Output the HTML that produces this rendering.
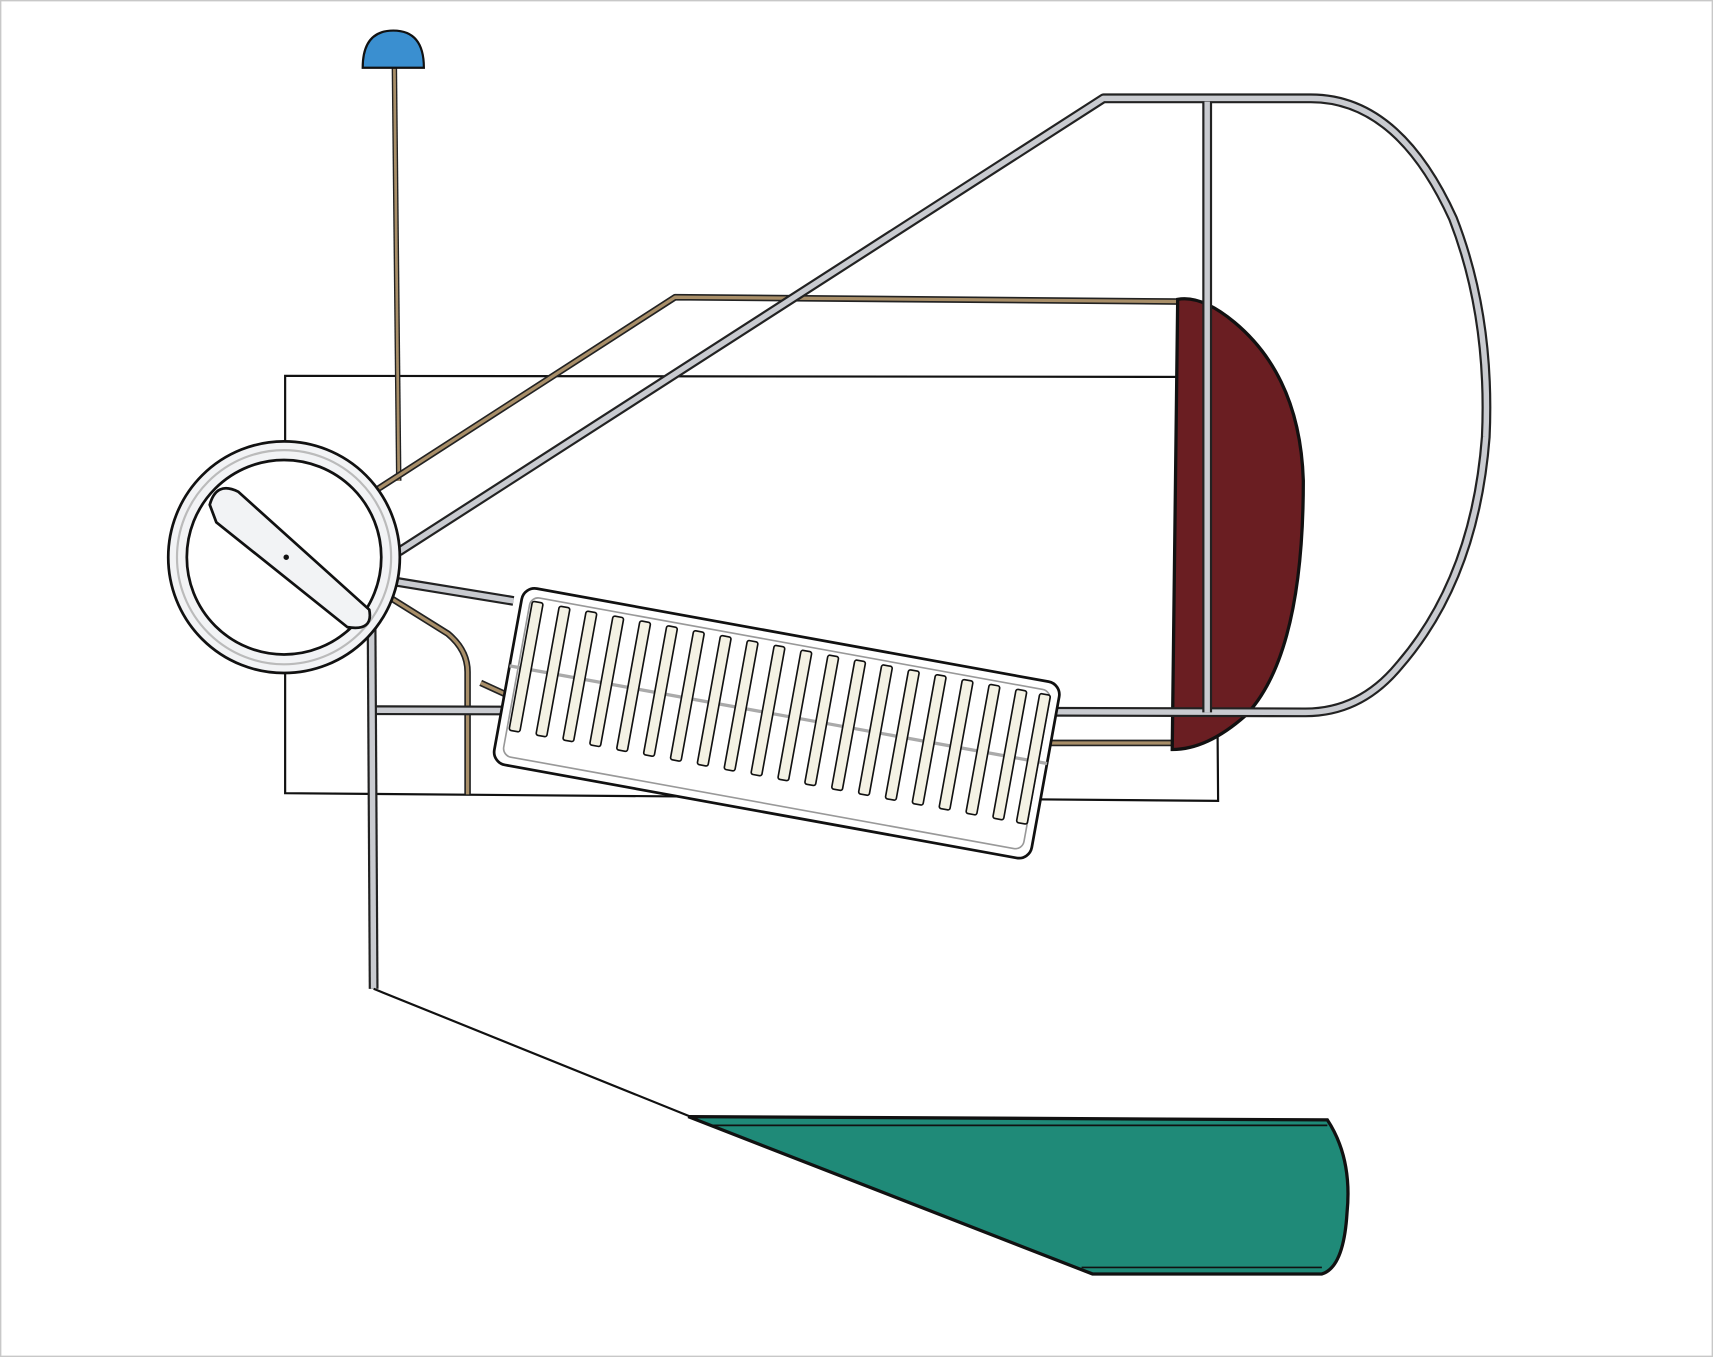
<!DOCTYPE html>
<html><head><meta charset="utf-8"><style>html,body{margin:0;padding:0;background:#fff}svg{display:block}</style></head>
<body>
<svg width="1713" height="1357" viewBox="0 0 1568 1242" preserveAspectRatio="none" xmlns="http://www.w3.org/2000/svg">
<rect x="0.5" y="0.5" width="1567" height="1241" fill="#fff" stroke="#c8c8c8" stroke-width="1.5"/>
<path d="M261 344 L1112 345 L1115 733 L261 726 Z" fill="#fff" stroke="#111" stroke-width="2"/>
<line x1="361" y1="62" x2="365" y2="440" stroke="#222" stroke-width="5"/>
<line x1="361" y1="62" x2="365" y2="440" stroke="#a88e68" stroke-width="2.5"/>
<path d="M332 62 L388 62 Q388 28 360 28 Q332 28 332 62 Z" fill="#3a8fd0" stroke="#111" stroke-width="2"/>
<g fill="none" stroke-linejoin="round">
<path d="M280 490 L618 272 L1080 276" stroke="#222" stroke-width="6"/>
<path d="M280 490 L618 272 L1080 276" stroke="#a88e68" stroke-width="3"/>
<path d="M330 530 L410 580 Q428 595 428 615 L428 727" stroke="#222" stroke-width="6"/>
<path d="M330 530 L410 580 Q428 595 428 615 L428 727" stroke="#a88e68" stroke-width="3"/>
<path d="M440 625 L560 680 L1075 680" stroke="#222" stroke-width="6"/>
<path d="M440 625 L560 680 L1075 680" stroke="#a88e68" stroke-width="3"/>
</g>
<path d="M1078 274 Q1100 270 1130 295 Q1190 345 1193 440 Q1193 600 1140 655 Q1105 686 1073 686 Z" fill="#6a1e22" stroke="#111" stroke-width="3"/>
<g fill="none" stroke-linejoin="round">
<path d="M365 505 L1010 90 L1200 90 Q1280 90 1330 200 Q1365 290 1360 400 Q1350 530 1280 610 Q1245 652 1195 652 L340 650" stroke="#222" stroke-width="9"/>
<path d="M365 505 L1010 90 L1200 90 Q1280 90 1330 200 Q1365 290 1360 400 Q1350 530 1280 610 Q1245 652 1195 652 L340 650" stroke="#c9cbd0" stroke-width="5"/>
<path d="M1105 93 L1105 652" stroke="#222" stroke-width="9"/>
<path d="M1105 93 L1105 652" stroke="#c9cbd0" stroke-width="5"/>
<path d="M340 550 L342 905" stroke="#222" stroke-width="9"/>
<path d="M340 550 L342 905" stroke="#c9cbd0" stroke-width="5"/>
<path d="M360 532 L470 550" stroke="#222" stroke-width="9"/>
<path d="M360 532 L470 550" stroke="#c9cbd0" stroke-width="5"/>
<path d="M290 505 L350 505 M290 515 L350 520 M290 525 L345 535" stroke="#888" stroke-width="3"/>
</g>
<line x1="342" y1="905" x2="632" y2="1022" stroke="#111" stroke-width="2"/>
<path d="M630 1022 L1215 1025 Q1238 1060 1233 1110 Q1230 1160 1210 1166 L1000 1166 Z" fill="#1f8a78" stroke="#111" stroke-width="3"/>
<path d="M650 1030 L1215 1030 M990 1160 L1210 1160" stroke="#111" stroke-width="1.5" fill="none"/>
<g>
<circle cx="260" cy="510" r="106" fill="#f2f3f5" stroke="#111" stroke-width="2.5"/>
<circle cx="260" cy="510" r="98" fill="none" stroke="#bbb" stroke-width="2"/>
<circle cx="260" cy="510" r="89" fill="#fff" stroke="#111" stroke-width="2.5"/>
<path d="M192 462 Q198 440 218 450 L338 558 Q342 578 318 574 L198 478 Z" fill="#f2f3f5" stroke="#111" stroke-width="2.5"/>
<circle cx="262" cy="510" r="2.5" fill="#111"/>
</g>
<g transform="translate(711 662) rotate(10.3)">
<rect x="-250" y="-82" width="500" height="164" rx="12" fill="#fff" stroke="#111" stroke-width="2.5"/>
<rect x="-242" y="-74" width="484" height="148" rx="8" fill="none" stroke="#999" stroke-width="1.5"/>
<line x1="-250" y1="-8" x2="250" y2="-8" stroke="#aaa" stroke-width="3"/>
<g fill="#f4f2e4" stroke="#111" stroke-width="1.5">
<rect x="-240" y="-70" width="10" height="120" rx="2"/>
<rect x="-215" y="-70" width="10" height="120" rx="2"/>
<rect x="-190" y="-70" width="10" height="120" rx="2"/>
<rect x="-165" y="-70" width="10" height="120" rx="2"/>
<rect x="-140" y="-70" width="10" height="120" rx="2"/>
<rect x="-115" y="-70" width="10" height="120" rx="2"/>
<rect x="-90" y="-70" width="10" height="120" rx="2"/>
<rect x="-65" y="-70" width="10" height="120" rx="2"/>
<rect x="-40" y="-70" width="10" height="120" rx="2"/>
<rect x="-15" y="-70" width="10" height="120" rx="2"/>
<rect x="10" y="-70" width="10" height="120" rx="2"/>
<rect x="35" y="-70" width="10" height="120" rx="2"/>
<rect x="60" y="-70" width="10" height="120" rx="2"/>
<rect x="85" y="-70" width="10" height="120" rx="2"/>
<rect x="110" y="-70" width="10" height="120" rx="2"/>
<rect x="135" y="-70" width="10" height="120" rx="2"/>
<rect x="160" y="-70" width="10" height="120" rx="2"/>
<rect x="185" y="-70" width="10" height="120" rx="2"/>
<rect x="210" y="-70" width="10" height="120" rx="2"/>
<rect x="232" y="-70" width="10" height="120" rx="2"/>
</g>
</g>
</svg>
</body></html>
